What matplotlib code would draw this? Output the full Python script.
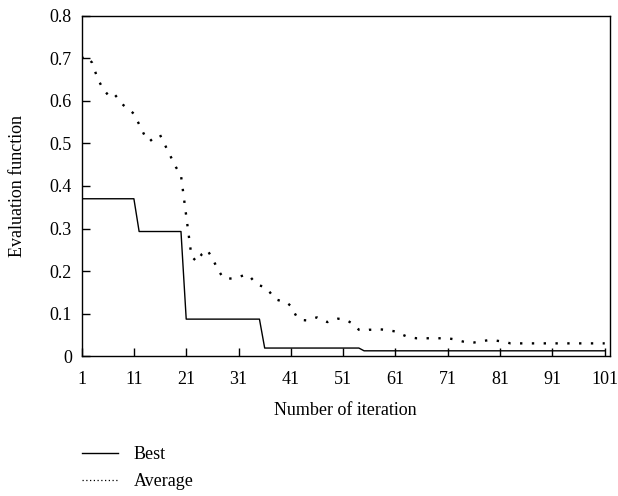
import matplotlib
matplotlib.use("Agg")
import matplotlib.pyplot as plt
from matplotlib.lines import Line2D
import numpy as np

plt.rcParams['font.family'] = ['Liberation Serif', 'DejaVu Serif']

iterations = np.arange(1, 102)

best = ([0.37] * 11 + [0.293] * 9 + [0.087] * 15 + [0.019] * 19 + [0.0125] * 47)

average = [0.70, 0.705, 0.69, 0.655, 0.63, 0.615, 0.62, 0.605, 0.59, 0.58,
           0.57, 0.545, 0.52, 0.505, 0.515, 0.52, 0.495, 0.47, 0.445, 0.425,
           0.33, 0.235, 0.222, 0.24, 0.25, 0.23, 0.205, 0.185, 0.182, 0.183,
           0.186, 0.19, 0.19, 0.175, 0.166, 0.163, 0.15, 0.134, 0.13, 0.128,
           0.118, 0.095, 0.085, 0.084, 0.088, 0.091, 0.085, 0.08, 0.085, 0.088,
           0.087, 0.082, 0.075, 0.062, 0.06, 0.062, 0.062, 0.063, 0.062, 0.06,
           0.058, 0.052, 0.047, 0.044, 0.042, 0.042, 0.042, 0.042, 0.042, 0.042,
           0.042, 0.04, 0.037, 0.034, 0.032, 0.032, 0.034, 0.036, 0.038, 0.037,
           0.035, 0.033, 0.03, 0.03, 0.03, 0.03, 0.03, 0.03, 0.03, 0.03,
           0.03, 0.03, 0.03, 0.03, 0.03, 0.03, 0.03, 0.03, 0.03, 0.03,
           0.03]

xticks = list(range(1, 102, 10))
yticks = [0, 0.1, 0.2, 0.3, 0.4, 0.5, 0.6, 0.7, 0.8]
ytick_labels = ['0', '0.1', '0.2', '0.3', '0.4', '0.5', '0.6', '0.7', '0.8']

fig = plt.figure(figsize=(6.18, 4.96), dpi=100)
ax = fig.add_axes([0.132, 0.282, 0.855, 0.686])

ax.plot(iterations, best, color='black', linewidth=1.0)
ax.plot(iterations, average, color='black', linewidth=1.7, linestyle=(0, (1, 4)))

ax.set_xlim(1, 102)
ax.set_ylim(0, 0.8)
ax.set_xticks(xticks)
ax.set_yticks(yticks)
ax.set_yticklabels(ytick_labels)
ax.tick_params(direction='in', length=6, width=1, labelsize=13, top=False, right=False)
ax.tick_params(axis='x', pad=11)
ax.tick_params(axis='y', pad=7)
for s in ax.spines.values():
    s.set_linewidth(1.0)

ax.set_xlabel('Number of iteration', fontsize=13, labelpad=10)
ax.set_ylabel('Evaluation function', fontsize=13, labelpad=17)

# legend handles drawn thinner than the plotted lines, as in the original
handles = [Line2D([], [], color='black', linewidth=1.0),
           Line2D([], [], color='black', linewidth=0.9, linestyle=(0, (1, 2)))]
fig.legend(handles, ['Best', 'Average'], loc='upper left',
           bbox_to_anchor=(0.118, 0.118), frameon=False,
           fontsize=13, handlelength=2.0, handletextpad=0.85, borderpad=0,
           labelspacing=0.55)

fig.savefig('out.png', dpi=100)
